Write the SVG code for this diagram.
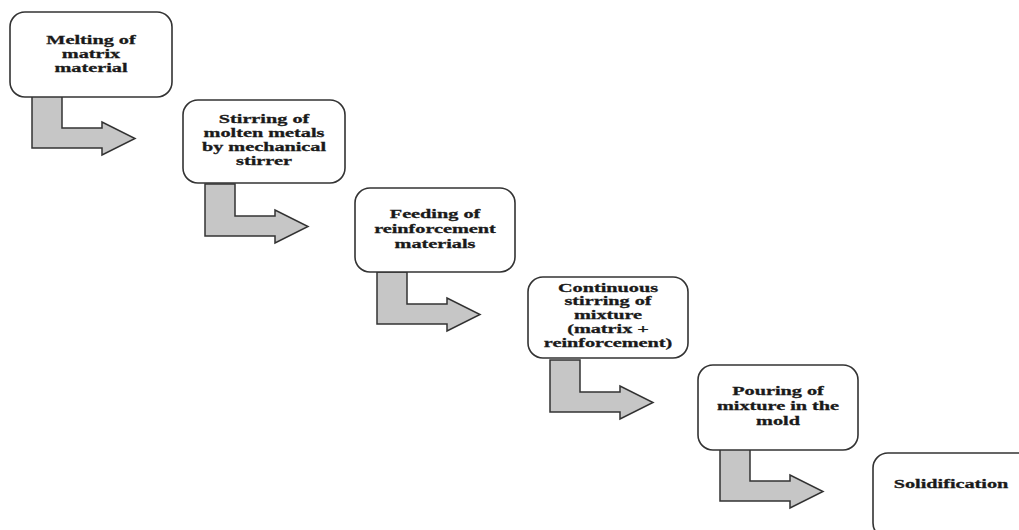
<svg xmlns="http://www.w3.org/2000/svg" width="1019" height="530" viewBox="0 0 1019 530">
<style>
.box{fill:#fff;stroke:#333;stroke-width:1.6}
.arrow{fill:#c6c6c6;stroke:#333;stroke-width:1.5;stroke-linejoin:miter}
.t{font-family:"Liberation Serif","Times New Roman",serif;font-weight:bold;font-size:13.5px;fill:#1a1a1a;stroke:#1a1a1a;stroke-width:0.3;text-anchor:middle}
</style>
<defs>
<polygon id="bend" class="arrow" points="22,84 52,84 52,116 92,116 92,110 125,126.5 92,143 92,136 22,136"/>
</defs>
<rect width="1019" height="530" fill="#fff"/>
<g id="connectors">
<use href="#bend" x="10" y="12"/>
<use href="#bend" x="183" y="100"/>
<use href="#bend" x="355" y="188"/>
<use href="#bend" x="528" y="276"/>
<use href="#bend" x="698" y="365"/>
</g>
<g id="n1">
<rect class="box" x="10" y="12" width="162" height="85" rx="15"/>
<g transform="translate(91,0) scale(1.5,1)"><text class="t" y="44">Melting of</text><text class="t" y="58">matrix</text><text class="t" y="72">material</text></g>
</g>
<g id="n2">
<rect class="box" x="183" y="100" width="162" height="83" rx="15"/>
<g transform="translate(264,0) scale(1.5,1)"><text class="t" y="123">Stirring of</text><text class="t" y="137">molten metals</text><text class="t" y="151">by mechanical</text><text class="t" y="165">stirrer</text></g>
</g>
<g id="n3">
<rect class="box" x="355" y="188" width="160" height="84" rx="15"/>
<g transform="translate(435,0) scale(1.5,1)"><text class="t" y="218">Feeding of</text><text class="t" y="233">reinforcement</text><text class="t" y="248">materials</text></g>
</g>
<g id="n4">
<rect class="box" x="528" y="277" width="160" height="81" rx="15"/>
<g transform="translate(608,0) scale(1.5,1)"><text class="t" y="292">Continuous</text><text class="t" y="305.5">stirring of</text><text class="t" y="319">mixture</text><text class="t" y="333">(matrix +</text><text class="t" y="347">reinforcement)</text></g>
</g>
<g id="n5">
<rect class="box" x="698" y="365" width="160" height="85" rx="15"/>
<g transform="translate(778,0) scale(1.5,1)"><text class="t" y="395">Pouring of</text><text class="t" y="410">mixture in the</text><text class="t" y="425">mold</text></g>
</g>
<g id="n6">
<rect class="box" x="873" y="453" width="162" height="85" rx="15"/>
<g transform="translate(951,0) scale(1.5,1)"><text class="t" y="488">Solidification</text></g>
</g>
</svg>
